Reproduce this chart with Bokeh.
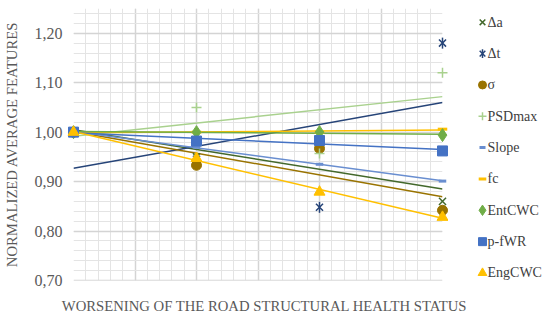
import numpy as np
from bokeh.plotting import figure
from bokeh.layouts import row, column
from bokeh.models import (Range1d, SingleIntervalTicker, CustomJSTickFormatter)
from bokeh.core.properties import value
from bokeh.embed import file_html
from bokeh.resources import INLINE

# ---- data ----
x = [1, 2, 3, 4]
d_a = [1.00, 0.950, 0.970, 0.860]
d_t = [1.00, 0.945, 0.848, 1.180]
sigma = [1.00, 0.933, 0.967, 0.842]
psdmax = [1.00, 1.050, 0.957, 1.120]
slope = [1.00, 0.970, 0.935, 0.901]
fc = [1.00, 1.000, 1.000, 1.006]
entcwc = [1.00, 1.000, 1.000, 0.994]
pfwr = [1.00, 0.982, 0.983, 0.962]
engcwc = [1.00, 0.947, 0.879, 0.828]

labels = ["Δa", "Δt", "σ", "PSDmax", "Slope", "fc", "EntCWC", "p-fWR", "EngCWC"]
values = [d_a, d_t, sigma, psdmax, slope, fc, entcwc, pfwr, engcwc]
colors = ["#43682B", "#264478", "#997300", "#A9D18E", "#698ED0",
          "#FFC000", "#70AD47", "#4472C4", "#FFC000"]

x_label = "WORSENING OF THE ROAD STRUCTURAL HEALTH STATUS"
y_label = "NORMALIZED AVERAGE FEATURES"

FONT = "Liberation Serif"
TXT = "#595959"
W_MAIN, W_LEG, H_TOP, H_ALL = 448, 102, 296, 320

p = figure(width=W_MAIN, height=H_TOP, x_range=Range1d(1, 4), y_range=Range1d(0.70, 1.25),
           output_backend="svg", toolbar_location=None,
           min_border_left=73, min_border_right=6, min_border_top=8, min_border_bottom=16)
p.outline_line_color = None

# axes
p.yaxis.ticker = SingleIntervalTicker(interval=0.1, num_minor_ticks=5)
p.yaxis.formatter = CustomJSTickFormatter(code="return tick.toFixed(2).replace('.', ',');")
p.yaxis.axis_line_color = None
p.yaxis.major_tick_line_color = None
p.yaxis.minor_tick_line_color = None
p.yaxis.major_tick_out = 0
p.yaxis.minor_tick_out = 0
p.yaxis.major_label_text_font = FONT
p.yaxis.major_label_text_color = TXT
p.yaxis.major_label_text_font_size = "16px"
p.yaxis.major_label_standoff = 11
p.yaxis.axis_label = y_label
p.yaxis.axis_label_text_font = FONT
p.yaxis.axis_label_text_font_style = "normal"
p.yaxis.axis_label_text_color = TXT
p.yaxis.axis_label_text_font_size = "14.7px"
p.yaxis.axis_label_standoff = 12
p.xaxis.visible = False

# grids
p.xgrid.ticker = SingleIntervalTicker(interval=0.5, num_minor_ticks=5)
for g in (p.xgrid, p.ygrid):
    g.grid_line_color = "#D4D4D4"
    g.grid_line_width = 1.5
    g.minor_grid_line_color = "#E4E4E4"
    g.minor_grid_line_width = 1

# trend lines (linear fits of each series)
xs = np.array([1.0, 4.0])
for vals, col in zip(values, colors):
    k, b = np.polyfit(x, vals, 1)
    p.line(xs, k * xs + b, line_color=col, line_width=1.5)

# marker styles per series
styles = [
    [dict(marker="x", line_color=colors[0], line_width=1.5)],
    [dict(marker="x", line_color=colors[1], line_width=1.5),
     dict(marker="dash", angle=np.pi / 2, line_color=colors[1], line_width=1.5, scale=1.1)],
    [dict(marker="circle", fill_color=colors[2], line_color=colors[2])],
    [dict(marker="cross", line_color=colors[3], line_width=1.5)],
    [dict(marker="dash", line_color=colors[4], line_width=3, scale=0.75)],
    [dict(marker="dash", line_color=colors[5], line_width=3, scale=0.95)],
    [dict(marker="diamond", fill_color=colors[6], line_color=colors[6], scale=1.3)],
    [dict(marker="square", fill_color=colors[7], line_color=colors[7])],
    [dict(marker="triangle", fill_color=colors[8], line_color=colors[8], scale=1.1)],
]

# legend panel: a second, axis-less figure in pixel coordinates
leg = figure(width=W_LEG, height=H_TOP, x_range=Range1d(W_MAIN, W_MAIN + W_LEG),
             y_range=Range1d(H_TOP, 0), output_backend="svg", toolbar_location=None,
             x_axis_type=None, y_axis_type=None, min_border=0)
leg.outline_line_color = None
leg.grid.visible = False

LEG_X, LEG_Y0, LEG_DY = 482, 15, 34.1
for i, (vals, sty) in enumerate(zip(values, styles)):
    for s in sty:
        s = dict(s)
        sc = s.pop("scale", 1.0)
        p.scatter(x, vals, size=10 * sc, level="overlay", **s)
        leg.scatter([LEG_X], [LEG_Y0 + i * LEG_DY], size=8 * sc, **s)
    leg.text([LEG_X + 5], [LEG_Y0 + i * LEG_DY], text=[labels[i]],
             text_font=value(FONT), text_font_size="14px", text_color="#404040",
             text_baseline="middle", text_align="left")

# x-axis title strip spanning the full width
xlab = figure(width=W_MAIN + W_LEG, height=H_ALL - H_TOP, x_range=Range1d(0, W_MAIN + W_LEG),
              y_range=Range1d(H_ALL, H_TOP), output_backend="svg", toolbar_location=None,
              x_axis_type=None, y_axis_type=None, min_border=0)
xlab.outline_line_color = None
xlab.grid.visible = False
xlab.text([264], [305], text=[x_label], text_font=value(FONT), text_font_size="14.7px",
          text_color=TXT, text_baseline="middle", text_align="center")

layout = column(row(p, leg, spacing=0), xlab, spacing=0)
open("out.html", "w").write(file_html(layout, INLINE))
